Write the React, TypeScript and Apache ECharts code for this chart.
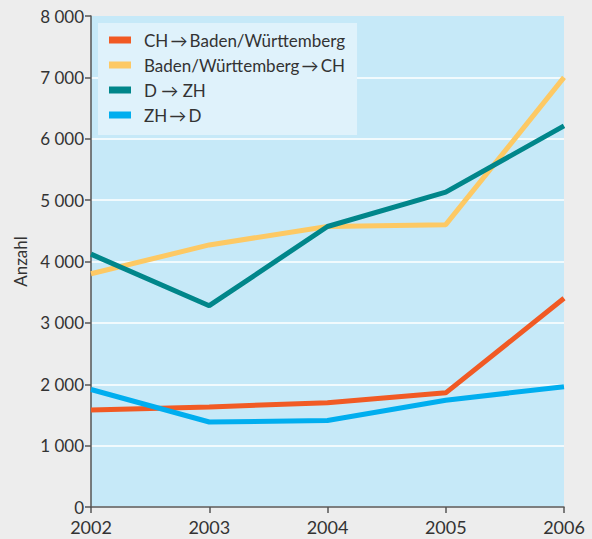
import React, { useEffect, useRef } from "react";
import * as echarts from "echarts";

const years = ["2002", "2003", "2004", "2005", "2006"];
const seriesNames = [
  "CH\u2009\u2192\u2009Baden/Württemberg",
  "Baden/Württemberg\u2009\u2192\u2009CH",
  "D \u2192 ZH",
  "ZH\u2009\u2192\u2009D",
];
const chToBw = [1580, 1630, 1700, 1860, 3400];
const bwToCh = [3800, 4270, 4570, 4600, 7000];
const dToZh = [4120, 3280, 4570, 5130, 6210];
const zhToD = [1915, 1385, 1410, 1740, 1960];
const colors = ["#f15a24", "#fdc964", "#00868a", "#00aeef"];
const values = [chToBw, bwToCh, dToZh, zhToD];

const FONT = "Lato, 'DejaVu Sans'";

export default function App() {
  const ref = useRef<HTMLDivElement>(null);
  useEffect(() => {
    if (!ref.current) return;
    const chart = echarts.init(ref.current, undefined, { renderer: "svg" });
    chart.setOption({
      animation: false,
      backgroundColor: "#ededed",
      textStyle: { fontFamily: FONT },
      grid: {
        left: 91,
        right: 28,
        top: 16,
        bottom: 32,
        show: true,
        backgroundColor: "#c6e9f8",
        borderWidth: 0,
      },
      legend: {
        orient: "vertical",
        left: 98,
        top: 23,
        backgroundColor: "#dff2fb",
        padding: [7, 12, 10, 11],
        itemWidth: 22,
        itemHeight: 7,
        itemGap: 5,
        icon: "rect",
        textStyle: {
          fontFamily: FONT,
          fontSize: 17,
          color: "#333",
          lineHeight: 20,
          padding: [0, 0, 0, 8],
        },
        data: seriesNames.map((n, i) => ({ name: n, itemStyle: { color: colors[i] } })),
      },
      xAxis: {
        type: "category",
        data: years,
        boundaryGap: false,
        axisLine: { show: true, lineStyle: { color: "#555", width: 1.5 } },
        axisTick: { show: true, length: 6, lineStyle: { color: "#555", width: 1.5 } },
        axisLabel: { fontFamily: FONT, fontSize: 18, color: "#333", margin: 11 },
        splitLine: { show: false },
      },
      yAxis: {
        type: "value",
        min: 0,
        max: 8000,
        interval: 1000,
        name: "Anzahl",
        nameLocation: "middle",
        nameGap: 62,
        nameTextStyle: { fontFamily: FONT, fontSize: 17, color: "#333" },
        axisLine: { show: true, lineStyle: { color: "#555", width: 1.5 } },
        axisTick: { show: true, length: 6, lineStyle: { color: "#555", width: 1.5 } },
        axisLabel: {
          fontFamily: FONT,
          fontSize: 17,
          color: "#333",
          margin: 7,
          formatter: (v: number) => {
            const s = String(v);
            return s.length > 3 ? s.slice(0, s.length - 3) + " " + s.slice(-3) : s;
          },
        },
        splitLine: {
          show: true,
          lineStyle: {
            color: ["#fff", "#fff", "#fff", "#fff", "#fff", "#fff", "#fff", "#fff", "rgba(0,0,0,0)"],
            width: 1.5,
          },
        },
      },
      series: seriesNames.map((n, i) => ({
        name: n,
        type: "line",
        data: values[i],
        symbol: "none",
        lineStyle: { color: colors[i], width: 5 },
        itemStyle: { color: colors[i] },
      })),
    });
    return () => chart.dispose();
  }, []);
  return (
    <div
      ref={ref}
      style={{ position: "fixed", left: 0, top: 0, width: 592, height: 539 }}
    />
  );
}
